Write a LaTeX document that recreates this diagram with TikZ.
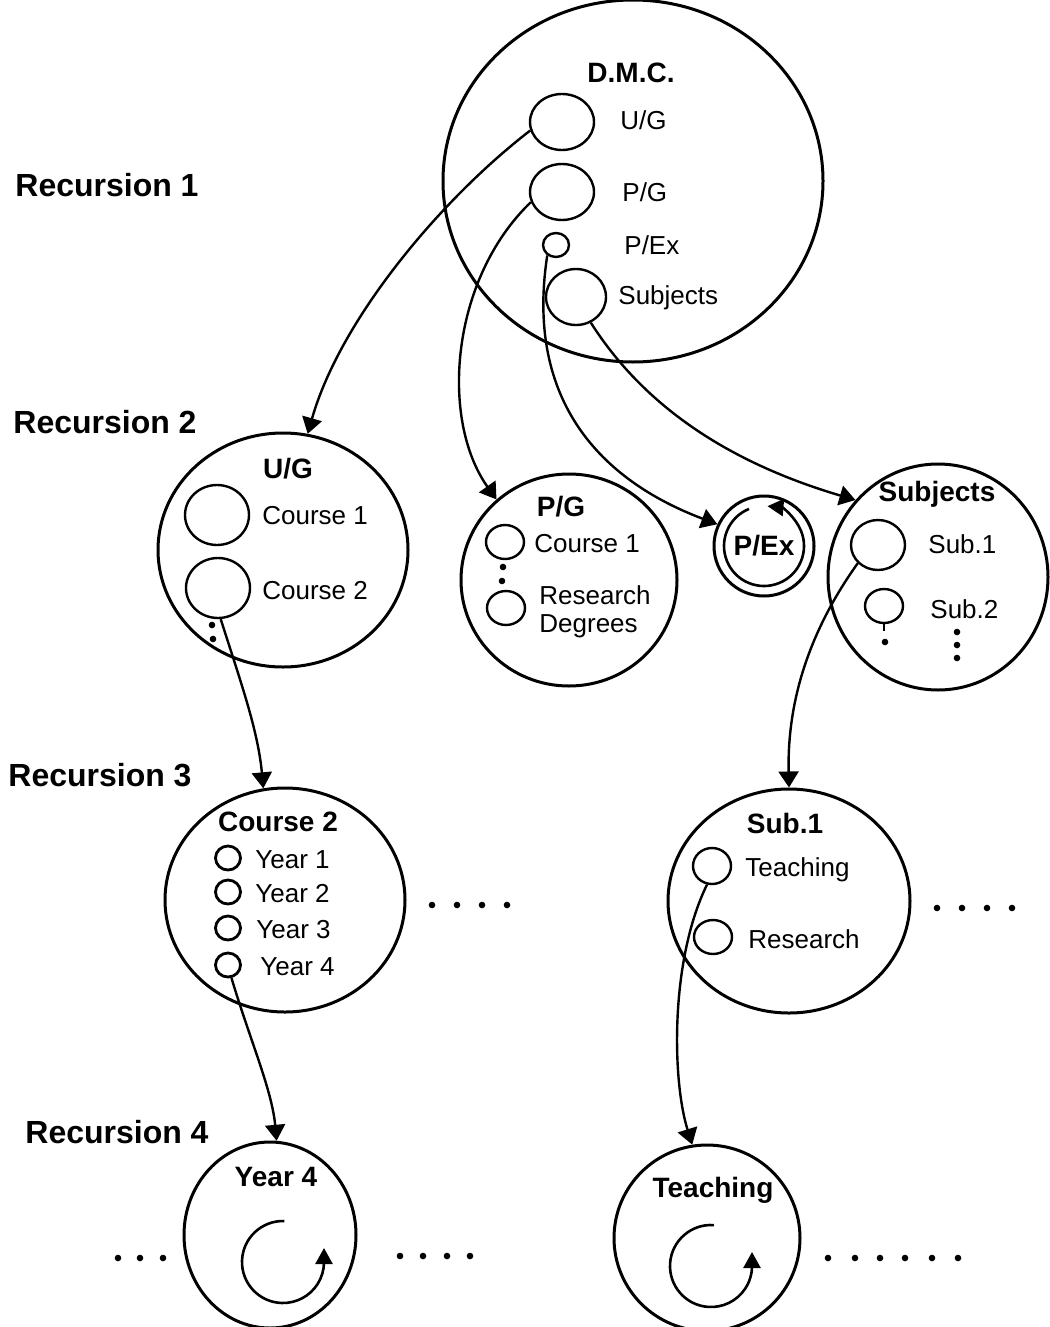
\documentclass[tikz,border=0pt]{standalone}
\usepackage{fontspec}
\setmainfont{Liberation Sans}
\usetikzlibrary{arrows.meta,shapes.geometric}
\newcommand{\txt}{\fontsize{13}{14}\selectfont}
\newcommand{\kopf}{\fontsize{14}{16}\selectfont\bfseries}
\newcommand{\rek}{\fontsize{16}{19}\selectfont\bfseries}
\tikzset{system/.style={ellipse,draw,line width=1.5pt,inner sep=0pt},
  teil/.style={ellipse,draw,line width=1.2pt,inner sep=0pt},
  pfeil/.style={line width=1.2pt,-{Triangle[length=8pt,width=10pt]}},
  kreislauf/.style={line width=1.3pt,-{Triangle[length=8pt,width=8.5pt]}}}
\newcommand{\punkte}[2]{\foreach \px in {#1} \fill (\px,#2) circle[radius=3.3];}

\begin{document}
\begin{tikzpicture}[x=0.5pt,y=0.5pt]
\useasboundingbox (0,0) rectangle (1049,-1327);
% Ebenen links
\node[anchor=west,inner sep=0,font=\rek] (rek1) at (15,-185) {Recursion 1};
\node[anchor=west,inner sep=0,font=\rek] (rek2) at (13,-422) {Recursion 2};
\node[anchor=west,inner sep=0,font=\rek] (rek3) at (8,-775) {Recursion 3};
\node[anchor=west,inner sep=0,font=\rek] (rek4) at (25,-1132) {Recursion 4};
% Recursion 1: D.M.C.
\node[system,minimum width=190pt,minimum height=181pt] (dmc) at (633,-181) {};
\node[font=\kopf] (dmckopf) at (631,-73) {D.M.C.};
\node[teil,minimum width=32pt,minimum height=28pt] (dmcug) at (562,-122) {};
\node[teil,minimum width=32pt,minimum height=28pt] (dmcpg) at (562,-192) {};
\node[teil,minimum width=13pt,minimum height=12pt] (dmcpex) at (556,-245) {};
\node[teil,minimum width=30pt,minimum height=28pt] (dmcsub) at (576,-297) {};
\node[anchor=west,inner sep=0,font=\txt] (dmcugtxt) at (620,-120) {U/G};
\node[anchor=west,inner sep=0,font=\txt] (dmcpgtxt) at (622,-192) {P/G};
\node[anchor=west,inner sep=0,font=\txt] (dmcpextxt) at (624,-245) {P/Ex};
\node[anchor=west,inner sep=0,font=\txt] (dmcsubtxt) at (618,-298) {Subjects};
% Recursion 2
\node[system,minimum width=125pt,minimum height=117pt] (ug) at (283,-550) {};
\node[font=\kopf] (ugkopf) at (288,-469) {U/G};
\node[teil,minimum width=32pt,minimum height=30pt] (ugc1) at (217,-515) {};
\node[teil,minimum width=32pt,minimum height=30pt] (ugc2) at (218,-588) {};
\node[anchor=west,inner sep=0,font=\txt] (ugc1txt) at (262,-516) {Course 1};
\node[anchor=west,inner sep=0,font=\txt] (ugc2txt) at (262,-591) {Course 2};
\punkte{212}{-625}\punkte{213}{-639}

\node[system,minimum width=108pt,minimum height=106pt] (pg) at (569,-580) {};
\node[font=\kopf] (pgkopf) at (561,-507) {P/G};
\node[teil,minimum width=19pt,minimum height=17pt] (pgc1) at (505,-542) {};
\node[teil,minimum width=19pt,minimum height=17pt] (pgrd) at (506,-608) {};
\node[anchor=west,inner sep=0,font=\txt] (pgc1txt) at (534,-544) {Course 1};
\node[anchor=west,inner sep=0,font=\txt,align=left] (pgrdtxt) at (539,-612) {Research\\Degrees};
\punkte{503}{-567}\punkte{502}{-581}

\node[system,minimum width=50pt,minimum height=50pt] (pex) at (764,-546) {};
\node[font=\kopf] (pexkopf) at (764,-546) {P/Ex};
\draw[kreislauf] ([shift={(112:40)}]pex.center) arc[start angle=112,end angle=445,radius=40];

\node[system,minimum width=110pt,minimum height=113pt] (subj) at (938,-577) {};
\node[font=\kopf] (subjkopf) at (937,-494) {Subjects};
\node[teil,minimum width=27pt,minimum height=25pt] (subs1) at (878,-545) {};
\node[teil,minimum width=19pt,minimum height=17pt] (subs2) at (884,-606) {};
\node[anchor=west,inner sep=0,font=\txt] (subs1txt) at (928,-544) {Sub.1};
\node[anchor=west,inner sep=0,font=\txt] (subs2txt) at (930,-609) {Sub.2};
\draw[line width=1.2pt] (subs2.south) -- ++(0,-7);
\punkte{885}{-642}
\punkte{957}{-632}\punkte{957}{-645}\punkte{957}{-658}
% Recursion 3
\node[system,minimum width=120pt,minimum height=112pt] (c2) at (285,-900) {};
\node[font=\kopf] (c2kopf) at (278,-822) {Course 2};
\foreach \j/\yy in {1/858,2/892,3/928,4/965}{
  \node[teil,line width=1.4pt,minimum width=12.5pt,minimum height=12pt] (c2y\j) at (228,-\yy) {};
}
\node[anchor=west,inner sep=0,font=\txt] (c2y1txt) at (255,-860) {Year 1};
\node[anchor=west,inner sep=0,font=\txt] (c2y2txt) at (255,-894) {Year 2};
\node[anchor=west,inner sep=0,font=\txt] (c2y3txt) at (256,-930) {Year 3};
\node[anchor=west,inner sep=0,font=\txt] (c2y4txt) at (260,-967) {Year 4};
\punkte{432,457,482,507}{-905}

\node[system,minimum width=121pt,minimum height=112pt] (s1) at (789,-901) {};
\node[font=\kopf] (s1kopf) at (785,-823) {Sub.1};
\node[teil,minimum width=19pt,minimum height=18pt] (teach) at (712,-866) {};
\node[teil,minimum width=19pt,minimum height=17pt] (res) at (713,-937) {};
\node[anchor=west,inner sep=0,font=\txt] (teachtxt) at (745,-870) {Teaching};
\node[anchor=west,inner sep=0,font=\txt] (restxt) at (748,-939) {Research};
\punkte{937,962,987,1012}{-908}
% Recursion 4
\node[system,minimum width=86pt,minimum height=93pt] (y4) at (270,-1235) {};
\node[font=\kopf] (y4kopf) at (276,-1177) {Year 4};
\draw[kreislauf] (283,-1262) ++(88:41) arc[start angle=88,end angle=360,radius=41] -- ++(0,14);
\punkte{118,140,163}{-1258}
\punkte{400,423,447,470}{-1256}

\node[system,minimum width=93pt,minimum height=93pt] (t4) at (707,-1238) {};
\node[font=\kopf] (t4kopf) at (713,-1190) {Teaching};
\draw[kreislauf] (711,-1266) ++(86:41) arc[start angle=86,end angle=360,radius=41] -- ++(0,14);
\punkte{828,855,880,905,932,958}{-1258}
% Verbindungen
\draw[pfeil] (dmcug.195) .. controls (440,-200) and (340,-320) .. (ug.78);
\draw[pfeil] (dmcpg.198) .. controls (450,-280) and (440,-420) .. (pg.132);
\draw[pfeil] (dmcpex.230) .. controls (525,-400) and (600,-480) .. (pex.155);
\draw[pfeil] (dmcsub.-60) .. controls (640,-400) and (720,-460) .. (subj.137);
\draw[pfeil] (ugc2.-85) .. controls (240,-680) and (258,-730) .. (c2.101);
\draw[pfeil] (subs1.222) .. controls (810,-630) and (787,-700) .. (s1.north);
\draw[pfeil] (c2y4.-75) .. controls (250,-1040) and (272,-1090) .. (y4.86);
\draw[pfeil] (teach.-105) .. controls (670,-960) and (672,-1080) .. (t4.99);
\end{tikzpicture}
\end{document}
